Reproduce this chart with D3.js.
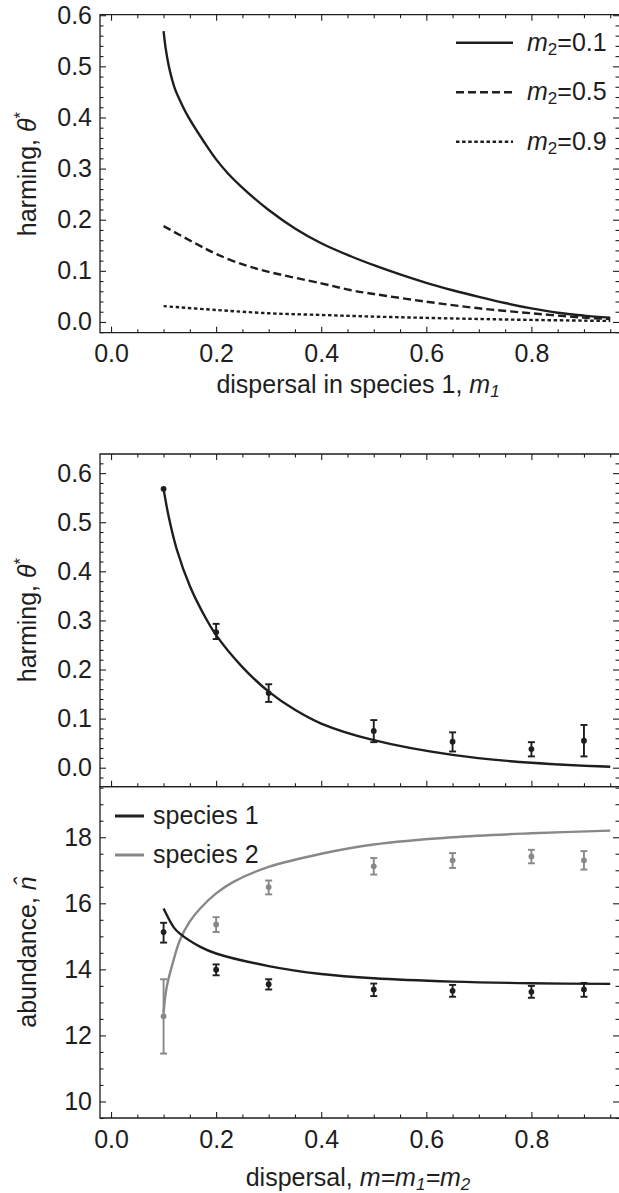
<!DOCTYPE html>
<html>
<head>
<meta charset="utf-8">
<script src="https://cdn.jsdelivr.net/npm/d3@7"></script>
<style>
  body { margin: 0; background: #fff; }
  svg { display: block; font-family: "Liberation Sans", Arial, Helvetica, sans-serif; }
</style>
</head>
<body>
<div id="chart"></div>
<script>
// ---- top panel: harming vs dispersal in species 1, for three m2 values
const m2Labels = ["0.1", "0.5", "0.9"];
const m1Solid = [0.1, 0.104, 0.11, 0.116, 0.122, 0.135, 0.147, 0.179, 0.2, 0.223, 0.255, 0.3, 0.35, 0.4, 0.455, 0.5, 0.55, 0.6, 0.65, 0.7, 0.75, 0.8, 0.85, 0.9, 0.95];
const thetaSolid = [0.569, 0.535, 0.50, 0.475, 0.455, 0.425, 0.401, 0.349, 0.318, 0.290, 0.258, 0.219, 0.183, 0.154, 0.129, 0.111, 0.093, 0.0765, 0.062, 0.049, 0.037, 0.0265, 0.018, 0.0125, 0.0084];
const m1Dashed = [0.1, 0.16, 0.2, 0.255, 0.3, 0.4, 0.455, 0.5, 0.6, 0.7, 0.8, 0.9, 0.95];
const thetaDashed = [0.1875, 0.154, 0.133, 0.111, 0.098, 0.0755, 0.0625, 0.0547, 0.0397, 0.0267, 0.017, 0.0084, 0.0059];
const m1Dotted = [0.1, 0.2, 0.3, 0.4, 0.5, 0.6, 0.7, 0.8, 0.9, 0.95];
const thetaDotted = [0.031, 0.0234, 0.017, 0.0137, 0.0105, 0.008, 0.0058, 0.004, 0.0026, 0.002];

// ---- middle panel: harming vs common dispersal m (theory + simulation)
const mTheory = [0.1, 0.11, 0.125, 0.15, 0.175, 0.2, 0.25, 0.3, 0.35, 0.4, 0.5, 0.65, 0.8, 0.95];
const thetaTheory = [0.568, 0.51, 0.445, 0.37, 0.315, 0.27, 0.205, 0.155, 0.118, 0.09, 0.056, 0.026, 0.010, 0.002];
const mSim = [0.1, 0.2, 0.3, 0.5, 0.65, 0.8, 0.9];
const thetaSim = [0.568, 0.276, 0.152, 0.075, 0.053, 0.038, 0.055];
const thetaLo = [0.568, 0.262, 0.134, 0.052, 0.033, 0.023, 0.023];
const thetaHi = [0.568, 0.293, 0.170, 0.097, 0.072, 0.052, 0.087];

// ---- bottom panel: abundance of species 1 and 2
const speciesNames = ["species 1", "species 2"];
const mN1 = [0.1, 0.119, 0.131, 0.17, 0.2, 0.3, 0.4, 0.5, 0.65, 0.8, 0.95];
const n1Theory = [15.84, 15.28, 15.08, 14.68, 14.48, 14.10, 13.86, 13.73, 13.63, 13.58, 13.56];
const mN2 = [0.1, 0.106, 0.119, 0.131, 0.15, 0.17, 0.2, 0.233, 0.3, 0.4, 0.5, 0.65, 0.8, 0.95];
const n2Theory = [12.7, 13.47, 14.28, 14.88, 15.45, 15.85, 16.30, 16.65, 17.10, 17.50, 17.78, 18.00, 18.12, 18.20];
const n1Sim = [15.13, 13.99, 13.55, 13.39, 13.35, 13.32, 13.39];
const n1Lo = [14.81, 13.82, 13.39, 13.19, 13.17, 13.14, 13.17];
const n1Hi = [15.41, 14.15, 13.70, 13.57, 13.53, 13.50, 13.59];
const n2Sim = [12.58, 15.36, 16.49, 17.12, 17.30, 17.42, 17.30];
const n2Lo = [11.45, 15.13, 16.27, 16.87, 17.07, 17.21, 17.02];
const n2Hi = [13.70, 15.58, 16.69, 17.37, 17.52, 17.62, 17.58];

// ---- ticks
const xTicks = [0, 0.2, 0.4, 0.6, 0.8];
const xMinor = [0.05, 0.1, 0.15, 0.25, 0.3, 0.35, 0.45, 0.5, 0.55, 0.65, 0.7, 0.75, 0.85, 0.9, 0.95];
const thetaTicks = [0, 0.1, 0.2, 0.3, 0.4, 0.5, 0.6];
const nTicks = [10, 12, 14, 16, 18];

const W = 619, H = 1193;
const ink = "#1e1e1e", grey = "#888";
const FS = 25, SUB = 17;
const LW = 2.4;

const svg = d3.select("#chart").append("svg").attr("width", W).attr("height", H);

const x = d3.scaleLinear().domain([-0.021, 0.9667]).range([100, 619]);
const yTop = d3.scaleLinear().domain([-0.021, 0.601]).range([332.7, 14.7]);
const yMid = d3.scaleLinear().domain([-0.0387, 0.639]).range([786.7, 454]);
const yBot = d3.scaleLinear().domain([9.5, 19.53]).range([1118, 786.7]);

function minorsOf(scale, step) {
  const [a, b] = scale.domain();
  const out = [];
  for (let v = Math.ceil(a / step) * step; v <= b + 1e-9; v += step) out.push(+v.toFixed(4));
  return out;
}

function styleAxis(g) {
  g.attr("font-size", null).attr("font-family", null);
  g.select(".domain").remove();
  g.selectAll("line").attr("stroke", ink).attr("stroke-width", 1.1);
  g.selectAll("text").attr("fill", ink).attr("font-size", FS);
}

function tickAxis(axisFn, scale, tr, values, size, fmt, pad) {
  const g = svg.append("g").attr("transform", tr);
  g.call(axisFn(scale).tickValues(values).tickSize(-size).tickPadding(pad || 0)
    .tickFormat(fmt || (() => "")));
  styleAxis(g);
  return g;
}

function panel(y, yMajor, yStep, yFmt, opt) {
  const [yb, yt] = y.range();
  // frame lines (left, top, bottom)
  svg.append("path")
    .attr("d", `M${x.range()[1]},${yt}H100V${yb}H${x.range()[1]}`)
    .attr("fill", "none").attr("stroke", ink).attr("stroke-width", 1.3);
  const yMinor = minorsOf(y, yStep).filter(v => !yMajor.some(m => Math.abs(m - v) < 1e-6));
  // left
  tickAxis(d3.axisLeft, y, "translate(100,0)", yMajor, 6, yFmt, 8);
  tickAxis(d3.axisLeft, y, "translate(100,0)", yMinor, 3.5);
  // right
  tickAxis(d3.axisRight, y, "translate(619,0)", yMajor, 6);
  tickAxis(d3.axisRight, y, "translate(619,0)", yMinor, 3.5);
  // bottom
  tickAxis(d3.axisBottom, x, `translate(0,${yb})`, xTicks, 6, opt.xLabels ? d3.format(".1f") : null, 12);
  tickAxis(d3.axisBottom, x, `translate(0,${yb})`, xMinor, 3.5);
  if (opt.topTicks) {
    tickAxis(d3.axisTop, x, `translate(0,${yt})`, xTicks, 6);
    tickAxis(d3.axisTop, x, `translate(0,${yt})`, xMinor, 3.5);
  }
}

function yTitle(cy, parts) {
  const t = svg.append("text").attr("transform", `translate(36,${cy}) rotate(-90)`)
    .attr("text-anchor", "middle").attr("fill", ink).attr("font-size", FS);
  parts(t);
}

const smooth = d3.curveCatmullRom.alpha(0.5);

// ---------- top panel
panel(yTop, thetaTicks, 0.02, d3.format(".1f"), { xLabels: true, topTicks: true });

const lineTop = d3.line().x(d => x(d[0])).y(d => yTop(d[1])).curve(smooth);
const topSeries = [
  { m: m1Solid, v: thetaSolid, dash: null },
  { m: m1Dashed, v: thetaDashed, dash: "8,4" },
  { m: m1Dotted, v: thetaDotted, dash: "3.5,2.6" }
];
topSeries.forEach(s => {
  svg.append("path").datum(d3.zip(s.m, s.v)).attr("d", lineTop)
    .attr("fill", "none").attr("stroke", ink).attr("stroke-width", LW)
    .attr("stroke-dasharray", s.dash);
});

// legend
topSeries.forEach((s, i) => {
  const ly = 42.7 + i * 49.5;
  svg.append("line").attr("x1", 456).attr("x2", 513).attr("y1", ly).attr("y2", ly)
    .attr("stroke", ink).attr("stroke-width", LW).attr("stroke-dasharray", s.dash);
  const t = svg.append("text").attr("x", 527).attr("y", ly + 8).attr("fill", ink).attr("font-size", FS);
  t.append("tspan").attr("font-style", "italic").text("m");
  t.append("tspan").attr("font-size", SUB).attr("dy", 4).text("2");
  t.append("tspan").attr("dy", -4).text("=" + m2Labels[i]);
});

yTitle(174, t => {
  t.append("tspan").text("harming, ");
  t.append("tspan").attr("font-style", "italic").text("\u03b8");
  t.append("tspan").attr("font-size", SUB).attr("dy", -10).text("*");
});

const xt1 = svg.append("text").attr("x", 358).attr("y", 393).attr("text-anchor", "middle")
  .attr("fill", ink).attr("font-size", FS);
xt1.append("tspan").text("dispersal in species 1, ");
xt1.append("tspan").attr("font-style", "italic").text("m");
xt1.append("tspan").attr("font-style", "italic").attr("font-size", SUB).attr("dy", 4).text("1");

// ---------- middle panel
panel(yMid, thetaTicks, 0.02, d3.format(".1f"), { xLabels: false, topTicks: true });

svg.append("path").datum(d3.zip(mTheory, thetaTheory))
  .attr("d", d3.line().x(d => x(d[0])).y(d => yMid(d[1])).curve(smooth))
  .attr("fill", "none").attr("stroke", ink).attr("stroke-width", LW);

function errorBars(y, ms, vs, lo, hi, color) {
  const g = svg.append("g").attr("stroke", color).attr("fill", color);
  ms.forEach((m, i) => {
    const cx = x(m);
    if (hi[i] - lo[i] > 1e-6) {
      g.append("line").attr("x1", cx).attr("x2", cx).attr("y1", y(lo[i])).attr("y2", y(hi[i])).attr("stroke-width", 1.9);
      [lo[i], hi[i]].forEach(v => {
        g.append("line").attr("x1", cx - 3.5).attr("x2", cx + 3.5).attr("y1", y(v)).attr("y2", y(v)).attr("stroke-width", 1.9);
      });
    }
    g.append("circle").attr("cx", cx).attr("cy", y(vs[i])).attr("r", 2.9).attr("stroke", "none");
  });
}
errorBars(yMid, mSim, thetaSim, thetaLo, thetaHi, ink);

yTitle(620, t => {
  t.append("tspan").text("harming, ");
  t.append("tspan").attr("font-style", "italic").text("\u03b8");
  t.append("tspan").attr("font-size", SUB).attr("dy", -10).text("*");
});

// ---------- bottom panel
panel(yBot, nTicks, 0.5, d3.format("d"), { xLabels: true, topTicks: false });

const lineBot = d3.line().x(d => x(d[0])).y(d => yBot(d[1])).curve(smooth);
svg.append("path").datum(d3.zip(mN2, n2Theory)).attr("d", lineBot)
  .attr("fill", "none").attr("stroke", grey).attr("stroke-width", LW);
svg.append("path").datum(d3.zip(mN1, n1Theory)).attr("d", lineBot)
  .attr("fill", "none").attr("stroke", ink).attr("stroke-width", LW);

errorBars(yBot, mSim, n2Sim, n2Lo, n2Hi, grey);
errorBars(yBot, mSim, n1Sim, n1Lo, n1Hi, ink);

[ink, grey].forEach((c, i) => {
  const ly = 816 + i * 39;
  svg.append("line").attr("x1", 115).attr("x2", 144).attr("y1", ly).attr("y2", ly)
    .attr("stroke", c).attr("stroke-width", 3);
  svg.append("text").attr("x", 153).attr("y", ly + 8).attr("fill", ink).attr("font-size", FS)
    .text(speciesNames[i]);
});

yTitle(952, t => {
  t.append("tspan").text("abundance, ");
  t.append("tspan").attr("font-style", "italic").text("n\u0302");
});

const xt2 = svg.append("text").attr("x", 358).attr("y", 1186).attr("text-anchor", "middle")
  .attr("fill", ink).attr("font-size", FS);
xt2.append("tspan").text("dispersal, ");
xt2.append("tspan").attr("font-style", "italic").text("m=m");
xt2.append("tspan").attr("font-style", "italic").attr("font-size", SUB).attr("dy", 4).text("1");
xt2.append("tspan").attr("font-style", "italic").attr("dy", -4).text("=m");
xt2.append("tspan").attr("font-style", "italic").attr("font-size", SUB).attr("dy", 4).text("2");
</script>
</body>
</html>
